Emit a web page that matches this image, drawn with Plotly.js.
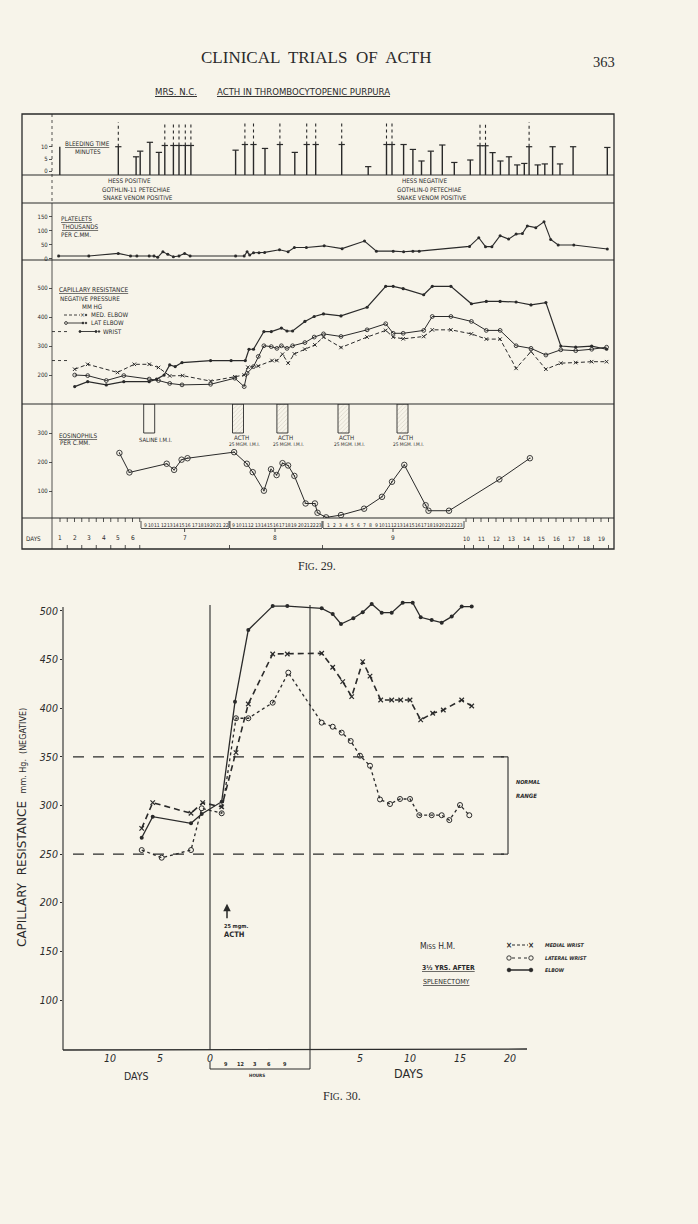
<!DOCTYPE html>
<html>
<head>
<meta charset="utf-8">
<script src="https://cdn.plot.ly/plotly-3.0.1.min.js"></script>
<style>
html,body{margin:0;padding:0;background:#f7f4ea;overflow:hidden;}
#chart{width:698px;height:1224px;}
</style>
</head>
<body>
<div id="chart"></div>
<script>
// ======================= DATA =======================
// ---- Fig. 29 (Mrs N.C.) : x = position along the printed day / hour scale (scale units) ----
const bleedPos = [59.8,118.3,136.1,140.2,149.9,158.9,164.8,173.4,179.0,185.3,190.9,235.6,244.9,253.5,265.0,279.9,294.8,306.7,315.7,341.7,368.2,386.5,392.0,403.6,412.9,421.5,430.8,442.3,454.3,470.3,480.0,485.5,492.6,500.4,509.0,517.2,524.3,529.1,537.7,544.8,552.6,560.0,573.1,607.3];
const bleedMin = [10,10,5.9,8.2,11.8,7.7,10.5,10.5,10.5,10.5,10.5,8.6,10.9,10.9,9.3,10.9,7.7,10.9,10.9,10.9,1.9,10.9,10.9,10.9,8.9,4.2,8.2,10.7,3.6,4.6,10.4,10.4,7.6,4.2,5.9,2.6,3.2,10,2.6,3.0,10,3.0,10,9.7];
const bleedOffScale = [0,1,0,0,0,0,1,1,1,1,1,0,1,1,0,1,0,1,1,1,0,1,1,0,0,0,0,0,0,0,1,1,0,0,0,0,0,1,0,0,0,0,0,0];
const bleedOffScaleTop = 20;

const plateletPos = [58.6,88.8,118.3,130.5,136.9,149.2,154.0,157.7,162.9,167.8,173.4,179.0,184.6,190.1,235.6,244.2,247.1,249.7,253.5,259.0,264.6,279.5,288.1,294.4,306.4,324.2,342.1,364.5,376.4,393.2,403.6,412.9,419.2,469.5,478.8,485.5,491.9,500.1,508.6,516.1,522.4,527.3,535.8,544.0,550.7,558.2,573.8,607.3];
const plateletVal = [9.5,9.5,19,9.5,9.5,9.5,9.5,5,25,15.5,7,9.5,19,9.5,9.5,9.5,25,13,21,21,22.6,32,25,40,40,46,36,63,27,27,25,27,27,44,75,43,43,82,70,88,90,117,111,132,69,49,49,34.5];

const wristPos = [74.7,87.7,106.3,123.8,149.2,156.6,164.1,169.7,175.2,182.0,210.6,231.1,245.3,249.0,253.5,263.9,271.3,281.4,287.0,292.6,304.9,314.2,323.5,341.0,367.1,385.7,393.2,403.2,423.7,432.3,450.9,471.4,486.3,500.1,516.1,531.0,545.9,560.8,575.7,591.7,606.6];
const wristVal = [160,177,166,177,177,186,200,235,229,243,250,250,250,289,289,350,350,362,352,352,385,402,411,404,434,506,506,498,477,506,506,446,454,454,452,442,450,300,296,300,289];
const latElbowPos = [74.7,87.7,106.3,123.8,149.2,158.5,169.7,182.0,210.6,234.8,244.2,247.1,253.5,258.3,263.9,271.3,276.9,281.4,287.0,292.6,304.9,314.2,323.5,341.0,367.1,385.7,393.2,403.2,423.7,432.3,450.9,471.4,486.3,500.1,516.1,531.0,545.9,560.8,575.7,591.7,606.6];
const latElbowVal = [200,198,181,198,186,181,171,166,168,189,160,206,229,264,301,298,292,301,292,301,312,331,342,333,356,377,344,344,354,402,402,385,354,354,301,292,269,287,284,289,296];
const medElbowPos = [74.7,87.7,117.5,134.3,149.2,158.5,169.7,182.7,210.6,234.8,244.2,247.9,258.3,272.1,276.9,282.5,288.1,294.4,304.9,314.9,323.5,341.0,367.1,385.7,393.2,403.2,423.7,432.3,450.9,471.4,486.3,500.1,516.1,531.0,545.9,560.8,575.7,591.7,606.6];
const medElbowVal = [220,237,209,237,237,226,197,198,179,194,200,227,231,250,250,272,241,273,289,304,331,295,331,354,331,325,333,356,356,342,324,324,223,281,220,241,243,246,246];
const capNormal = [250, 350];

const eosPos = [119.4,129.4,166.7,174.1,181.6,187.5,234.1,246.8,252.7,263.9,271.0,276.6,282.5,288.1,294.4,305.6,314.9,317.5,326.1,341.0,364.1,382.0,392.0,404.3,425.6,428.5,449.0,499.3,529.9];
const eosVal = [231,164,194,173,208,213,234,194,165,101,175,155,196,188,152,57,57,25,9,17,39,80,132,190,51,32,32,140,213];

const injPos = [149.2, 238.0, 282.4, 343.5, 402.5];
const injKind = ['saline','acth','acth','acth','acth'];
const injLabel = ['SALINE I.M.I.','ACTH','ACTH','ACTH','ACTH'];
const injDose = ['','25 MGM. I.M.I.','25 MGM. I.M.I.','25 MGM. I.M.I.','25 MGM. I.M.I.'];
const injBottom = [300,300,300,300,300];
const eosTop = 400;

// day / hour scale
const dayLabelsA = ['1','2','3','4','5','6'];
const dayPosA = [60,74.5,89,103.5,118,132.5];
const dayLabelsB = ['10','11','12','13','14','15','16','17','18','19'];
const dayPosB = [466,481,496,511,526,541,556,571,586,601];
const hourDays = ['7','8','9'];
const hourLists = [
  [9,10,11,12,13,14,15,16,17,18,19,20,21,22],
  [9,10,11,12,13,14,15,16,17,18,19,20,21,22,23],
  [1,2,3,4,5,6,7,8,9,10,11,12,13,14,15,16,17,18,19,20,21,22,23]
];
const hourSpan = [[145,225.5],[233,319],[328,460]];
const hourBracket = [[141,229],[230,322],[323,464]];
const hourDayPos = [184.6,275,393];

// ---- Fig. 30 (Miss H.M.) : x in days; 0..10 is the ACTH day drawn in hours ----
const medWristX = [-6.83,-5.73,-1.9,-0.73,1.17,2.6,3.83,6.27,7.73,11.17,12.27,13.27,14.17,15.27,16.0,17.07,18.17,19.07,20.0,21.07,22.27,23.33,25.17,26.17];
const medWristY = [276.5,302.9,292,302.9,298.5,354.3,404.4,455.8,455.8,456.5,442.1,427.3,411.9,447.9,433,408.5,408.5,408.5,408.5,388,394.8,398.2,408.5,402.3];
const latWristX = [-6.83,-4.83,-1.9,-0.83,1.17,2.6,3.83,6.27,7.83,11.17,12.27,13.17,14.07,15.0,16.0,17.0,18.0,19.0,20.0,20.93,22.17,23.17,23.93,25.0,25.93];
const latWristY = [254.2,246.3,254.2,297.1,292,389.7,389.7,405.7,436.6,385.2,381,374.9,366.3,351.2,340.9,306.2,301.5,306.7,306.7,290,290,290,285,300.5,290];
const elbowX = [-6.83,-5.73,-1.9,-0.83,1.17,2.5,3.83,6.27,7.73,11.17,12.27,13.1,14.33,15.27,16.17,17.17,18.17,19.27,20.27,21.07,22.17,23.17,24.17,25.17,26.17];
const elbowY = [266.9,288.5,281.7,291.2,303.9,406.7,480.5,505,505,502.7,496.9,486.6,492.5,498.6,507.2,498.3,498.3,508.5,508.5,493.5,490.7,488,494.2,504.5,504.5];
const normalRange = [250, 350];
const normalFrom = -13.7, normalTo = 29.8;
const fig30YTicks = [100,150,200,250,300,350,400,450,500];
const fig30XTickVals = [-10,-5,0,15,20,25,30];
const fig30XTickText = ['10','5','0','5','10','15','20'];
const fig30HourLabels = ['9','12','3','6','9'];
const fig30HourPos = [1.6,3.0,4.5,5.9,7.5];
const acthDay = 0, acthDayEnd = 10;
const acthArrow = {x: 1.7, y: 199};

// ======================= DRAWING =======================
const W = 698, H = 1224;
const BG = '#f7f4ea', INK = '#2a2a2a';
const HAND = "'DejaVu Sans Condensed','Liberation Sans Narrow','DejaVu Sans',sans-serif";
const SERIF = "'Liberation Serif','DejaVu Serif',serif";
const PX = x => x / W, PY = y => 1 - y / H;

const ann = [], shp = [];
function T(x, y, text, size, o) {
  o = o || {};
  ann.push({xref: o.xref || 'paper', yref: 'paper', x: o.xref ? x : PX(x), y: PY(y), text: text,
    showarrow: false, xanchor: o.xa || 'left', yanchor: 'middle', textangle: o.rot || 0,
    font: {family: o.fam || HAND, size: size, color: INK, style: o.it ? 'italic' : 'normal', weight: o.b ? 'bold' : 'normal'}});
}
function L(x0, y0, x1, y1, o) {
  o = o || {};
  const xr = o.xref || 'paper', yr = o.yref || 'paper';
  shp.push({type: 'line', xref: xr, yref: yr,
    x0: xr === 'paper' ? PX(x0) : x0, x1: xr === 'paper' ? PX(x1) : x1,
    y0: yr === 'paper' ? PY(y0) : y0, y1: yr === 'paper' ? PY(y1) : y1,
    line: {color: INK, width: o.w || 1, dash: o.dash || 'solid'}});
}
function C(cx, cy, r, fill) {
  shp.push({type: 'circle', xref: 'paper', yref: 'paper', x0: PX(cx - r), x1: PX(cx + r), y0: PY(cy + r), y1: PY(cy - r),
    line: {color: INK, width: 0.9}, fillcolor: fill ? INK : 'rgba(0,0,0,0)'});
}

// ---------- page header ----------
T(316, 57, 'CLINICAL  TRIALS  OF  ACTH', 17, {xa: 'center', fam: SERIF});
T(604, 62, '363', 14.5, {xa: 'center', fam: SERIF});
T(153, 92, '<u>MRS. N.C.</u>', 9.5);
T(215, 92, '<u>ACTH IN THROMBOCYTOPENIC PURPURA</u>', 9.5);

// ---------- Fig 29 frame ----------
const F = {l: 22, r: 614, t: 114, b: 549};
shp.push({type: 'rect', xref: 'paper', yref: 'paper', x0: PX(F.l), x1: PX(F.r), y0: PY(F.b), y1: PY(F.t), line: {color: INK, width: 1.3}});
[175, 203, 260, 404, 518].forEach(y => L(F.l, y, F.r, y, {w: 1.2}));
L(52, F.t, 52, 203, {w: 0.8, dash: 'dot'});
L(52, 203, 52, F.b, {w: 0.8});

// panel labels
T(63, 143, '<u>BLEEDING TIME</u>', 6.3);
T(73, 151, 'MINUTES', 6.3);
T(106, 180.5, 'HESS POSITIVE', 6.3);
T(100, 189, 'GOTHLIN-11 PETECHIAE', 6.3);
T(101, 197.5, 'SNAKE VENOM POSITIVE', 6.3);
T(400, 180.5, 'HESS NEGATIVE', 6.3);
T(395, 189, 'GOTHLIN-0 PETECHIAE', 6.3);
T(395, 197.5, 'SNAKE VENOM POSITIVE', 6.3);
T(59, 218, '<u>PLATELETS</u>', 6.3);
T(59, 226.5, '<u>THOUSANDS</u>', 6.3);
T(59, 235, 'PER C.MM.', 6.3);
T(57, 290, '<u>CAPILLARY RESISTANCE</u>', 6.5);
T(58, 298, 'NEGATIVE PRESSURE', 6.3);
T(80, 306.5, 'MM HG', 6.3);
T(89, 315, 'MED. ELBOW', 6.3);
T(89, 323, 'LAT ELBOW', 6.3);
T(101, 331.5, 'WRIST', 6.3);
T(57, 435, '<u>EOSINOPHILS</u>', 6.3);
T(58, 442.5, 'PER C.MM.', 6.3);
// capillary legend glyphs
L(64, 315, 80, 315, {w: 0.9, dash: '3px,2px'});
T(82, 315, '×', 6.5, {xa: 'center'});
C(86, 315, 0.8, true);
C(66, 323, 1.4, false); L(67.5, 323, 83, 323, {w: 0.9}); C(83, 323, 0.9, true); C(86, 323, 0.8, true);
C(80, 331.5, 1, true); L(80, 331.5, 96, 331.5, {w: 0.9}); C(96, 331.5, 1, true); C(99, 331.5, 0.8, true);
// capillary normal-range marks on the axis
capNormal.forEach(v => L(52, v, 68, v, {xref: 'x', yref: 'y3', w: 0.9, dash: 'dot'}));

// injection labels
injPos.forEach((p, i) => {
  if (injKind[i] === 'saline') {
    T(p + 6, 440, injLabel[i], 5.8, {xref: 'x', xa: 'center'});
  } else {
    T(p + 3, 437, injLabel[i], 6.2, {xref: 'x', xa: 'center'});
    T(p + 6, 444.5, injDose[i], 4.8, {xref: 'x', xa: 'center'});
  }
});

// ---------- days row ----------
T(33, 538, 'DAYS', 6.3, {xa: 'center'});
dayLabelsA.forEach((d, i) => T(dayPosA[i], 538, d, 6.5, {xref: 'x', xa: 'center'}));
dayLabelsB.forEach((d, i) => T(dayPosB[i], 538, d, 6, {xref: 'x', xa: 'center'}));
function dayTicks(pos) {
  const step = pos[1] - pos[0];
  pos.forEach(p => {
    L(p, 518, p, 522, {xref: 'x', w: 0.8});
    L(p + step / 2, 518, p + step / 2, 522, {xref: 'x', w: 0.8});
    L(p + step / 2, 545, p + step / 2, 549, {xref: 'x', w: 0.8});
  });
}
dayTicks(dayPosA); dayTicks(dayPosB);
hourLists.forEach((hrs, g) => {
  const a = hourSpan[g][0], b = hourSpan[g][1];
  hrs.forEach((h, k) => T(a + (b - a) * k / (hrs.length - 1), 524.5, String(h), 5, {xref: 'x', xa: 'center'}));
  const b0 = hourBracket[g][0], b1 = hourBracket[g][1];
  L(b0, 521, b0, 528, {xref: 'x', w: 0.8});
  L(b1, 521, b1, 528, {xref: 'x', w: 0.8});
  L(b0, 528.5, b1, 528.5, {xref: 'x', w: 0.8});
  L(hourDayPos[g], 528.5, hourDayPos[g], 532, {xref: 'x', w: 0.8});
  T(hourDayPos[g], 538, hourDays[g], 6.5, {xref: 'x', xa: 'center'});
  L(b1 + 0.5, 545, b1 + 0.5, 549, {xref: 'x', w: 0.8});
});
T(317, 566, 'F<span style="font-size:9.5px">IG</span>. 29.', 12, {xa: 'center', fam: SERIF});

// ---------- Fig 30 frame pieces ----------
L(63, 607, 63, 1050, {w: 1.1});
L(63, 1050, 527, 1049, {w: 1.3});
[acthDay, acthDayEnd].forEach(d => L(d, 605, d, 1050, {xref: 'x2', w: 1.1}));
// hours bracket
L(acthDay, 1062, acthDay, 1069, {xref: 'x2', w: 1});
L(acthDay, 1069, acthDayEnd, 1069, {xref: 'x2', w: 1});
L(acthDayEnd, 1050, acthDayEnd, 1069, {xref: 'x2', w: 1});
fig30HourLabels.forEach((h, i) => T(fig30HourPos[i], 1064, h, 5.5, {xref: 'x2', xa: 'center', b: true}));
T(4.7, 1075, 'HOURS', 4.5, {xref: 'x2', xa: 'center', b: true});
// normal range
normalRange.forEach(v => L(normalFrom, v, normalTo - 0.3, v, {xref: 'x2', yref: 'y5', w: 1.1, dash: '11px,9px'}));
L(normalTo, normalRange[0], normalTo, normalRange[1], {xref: 'x2', yref: 'y5', w: 1.1});
normalRange.forEach(v => L(normalTo - 0.7, v, normalTo, v, {xref: 'x2', yref: 'y5', w: 1.1}));
T(514, 782, 'NORMAL', 5.5, {it: true, b: true});
T(514, 795, 'RANGE', 6, {it: true, b: true});

// texts
T(22, 828, 'CAPILLARY  RESISTANCE  <span style="font-size:8px">mm. Hg.  (NEGATIVE)</span>', 12, {xa: 'center', rot: -90, fam: "'DejaVu Sans',sans-serif"});
T(222, 926, '25 mgm.', 5.5, {b: true});
T(222, 935, 'ACTH', 7.5, {b: true});
T(418, 946, 'M<span style="font-size:6.5px">ISS</span> H.M.', 8.5);
T(420, 968, '<u>3½ YRS. AFTER</u>', 6.8, {b: true});
T(421, 982, '<u>SPLENECTOMY</u>', 7);
// legend
T(509, 945, '×', 8, {xa: 'center', b: true}); L(512, 945, 528, 945, {w: 1.2, dash: '3px,2px'}); T(531, 945, '×', 8, {xa: 'center', b: true});
C(509, 958, 2.2, false); L(512, 958, 528, 958, {w: 1.2, dash: 'dot'}); C(531, 958, 2.2, false);
C(509, 970, 1.8, true); L(509, 970, 531, 970, {w: 1.5}); C(531, 970, 1.8, true);
T(543, 945, 'MEDIAL WRIST', 5.2, {it: true, b: true});
T(543, 958, 'LATERAL WRIST', 5.2, {it: true, b: true});
T(543, 970, 'ELBOW', 5.2, {it: true, b: true});
T(136, 1076, 'DAYS', 10.5, {xa: 'center'});
T(408, 1073, 'DAYS', 12.5, {xa: 'center'});
T(342, 1096, 'F<span style="font-size:9.5px">IG</span>. 30.', 12, {xa: 'center', fam: SERIF});
// ACTH arrow
ann.push({xref: 'x2', yref: 'y5', x: acthArrow.x, y: acthArrow.y, ax: 0, ay: 16, axref: 'pixel', ayref: 'pixel',
  text: '', showarrow: true, arrowhead: 2, arrowsize: 1, arrowwidth: 1.5, arrowcolor: INK});

// ---------- traces ----------
const data = [];
// bleeding time stems
const yBleedRange = [-1.5, 22.9];
const sx = [], sy = [], ox = [], oy = [];
bleedPos.forEach((p, i) => {
  sx.push(p, p, null); sy.push(yBleedRange[0], bleedMin[i], null);
  if (bleedOffScale[i]) { ox.push(p, p, null); oy.push(bleedMin[i], bleedOffScaleTop, null); }
});
data.push({type: 'scatter', mode: 'lines', x: sx, y: sy, xaxis: 'x', yaxis: 'y', line: {color: INK, width: 1.4}, hoverinfo: 'skip'});
data.push({type: 'scatter', mode: 'lines', x: ox, y: oy, xaxis: 'x', yaxis: 'y', line: {color: INK, width: 1.1, dash: 'dot'}, hoverinfo: 'skip'});
data.push({type: 'scatter', mode: 'markers', x: bleedPos.slice(1), y: bleedMin.slice(1), xaxis: 'x', yaxis: 'y',
  marker: {symbol: 'line-ew', size: 4.5, line: {color: INK, width: 1.2}}, hoverinfo: 'skip'});
// platelets
data.push({type: 'scatter', mode: 'lines+markers', x: plateletPos, y: plateletVal, xaxis: 'x', yaxis: 'y2',
  line: {color: INK, width: 1.1}, marker: {symbol: 'circle', size: 3, color: INK}});
// capillary resistance
data.push({type: 'scatter', mode: 'lines+markers', x: wristPos, y: wristVal, xaxis: 'x', yaxis: 'y3',
  line: {color: INK, width: 1.2}, marker: {symbol: 'circle', size: 3.2, color: INK}});
data.push({type: 'scatter', mode: 'lines+markers', x: latElbowPos, y: latElbowVal, xaxis: 'x', yaxis: 'y3',
  line: {color: INK, width: 1.0}, marker: {symbol: 'circle-open', size: 3.8, color: INK, line: {width: 0.9}}});
data.push({type: 'scatter', mode: 'lines+markers', x: medElbowPos, y: medElbowVal, xaxis: 'x', yaxis: 'y3',
  line: {color: INK, width: 1.0, dash: '4px,2.5px'}, marker: {symbol: 'x-thin', size: 3.5, color: INK, line: {color: INK, width: 1}}});
// eosinophils
data.push({type: 'scatter', mode: 'lines+markers', x: eosPos, y: eosVal, xaxis: 'x', yaxis: 'y4',
  line: {color: INK, width: 1.0}, marker: {symbol: 'circle-open-dot', size: 5.5, color: INK, line: {width: 0.9}}});
// injections (hanging bars)
data.push({type: 'bar', x: injPos, y: injBottom.map(b => eosTop - b), base: injBottom, width: 11, xaxis: 'x', yaxis: 'y4',
  marker: {color: injKind.map(k => k === 'saline' ? BG : '#d9d4c8'), line: {color: INK, width: 0.9},
    pattern: {shape: injKind.map(k => k === 'saline' ? '' : '/'), fgcolor: INK, size: 3, solidity: 0.25}}});

// Fig 30
data.push({type: 'scatter', mode: 'lines+markers', x: elbowX, y: elbowY, xaxis: 'x2', yaxis: 'y5',
  line: {color: INK, width: 1.3}, marker: {symbol: 'circle', size: 4, color: INK}});
data.push({type: 'scatter', mode: 'lines+markers', x: medWristX, y: medWristY, xaxis: 'x2', yaxis: 'y5',
  line: {color: INK, width: 1.6, dash: '6px,4px'}, marker: {symbol: 'x-thin', size: 4.5, color: INK, line: {color: INK, width: 1.2}}});
data.push({type: 'scatter', mode: 'lines+markers', x: latWristX, y: latWristY, xaxis: 'x2', yaxis: 'y5',
  line: {color: INK, width: 1.3, dash: 'dot'}, marker: {symbol: 'circle-open', size: 5, color: INK, line: {width: 1}}});

function yax(top, bot, range, tickvals) {
  return {domain: [PY(bot), PY(top)], range: range, anchor: 'free', position: PX(52),
    tickvals: tickvals, ticktext: tickvals.map(String), ticks: 'outside', ticklen: 3, tickwidth: 0.8, tickcolor: INK,
    showgrid: false, zeroline: false, showline: false, fixedrange: true,
    tickfont: {family: HAND, size: 6, color: INK}};
}

const layout = {
  width: W, height: H, margin: {l: 0, r: 0, t: 0, b: 0, pad: 0},
  paper_bgcolor: BG, plot_bgcolor: 'rgba(0,0,0,0)', showlegend: false,
  xaxis: {domain: [PX(F.l), PX(F.r)], range: [F.l, F.r], visible: false, anchor: 'y4', fixedrange: true},
  yaxis: yax(115, 175, yBleedRange, [0, 5, 10]),
  yaxis2: yax(203, 260, [-4.6, 199], [0, 50, 100, 150]),
  yaxis3: yax(260, 404, [100, 597], [200, 300, 400, 500]),
  yaxis4: yax(404, 518, [6.9, eosTop], [100, 200, 300]),
  xaxis2: {domain: [PX(63), PX(530)], range: [-14.7, 32], anchor: 'y5', showline: false, showgrid: false, zeroline: false,
    tickvals: fig30XTickVals, ticktext: fig30XTickText, ticks: '', fixedrange: true,
    tickfont: {family: HAND, size: 10.5, color: INK, style: 'italic'}},
  yaxis5: {domain: [PY(1050), PY(596)], range: [48.6, 515.4], anchor: 'x2', showline: false, showgrid: false, zeroline: false,
    tickvals: fig30YTicks, ticktext: fig30YTicks.map(String), ticks: 'outside', ticklen: 2, tickcolor: INK, fixedrange: true,
    tickfont: {family: HAND, size: 10.5, color: INK, style: 'italic'}},
  shapes: shp, annotations: ann, bargap: 0
};

Plotly.newPlot('chart', data, layout, {staticPlot: true, displayModeBar: false});
</script>
</body>
</html>
